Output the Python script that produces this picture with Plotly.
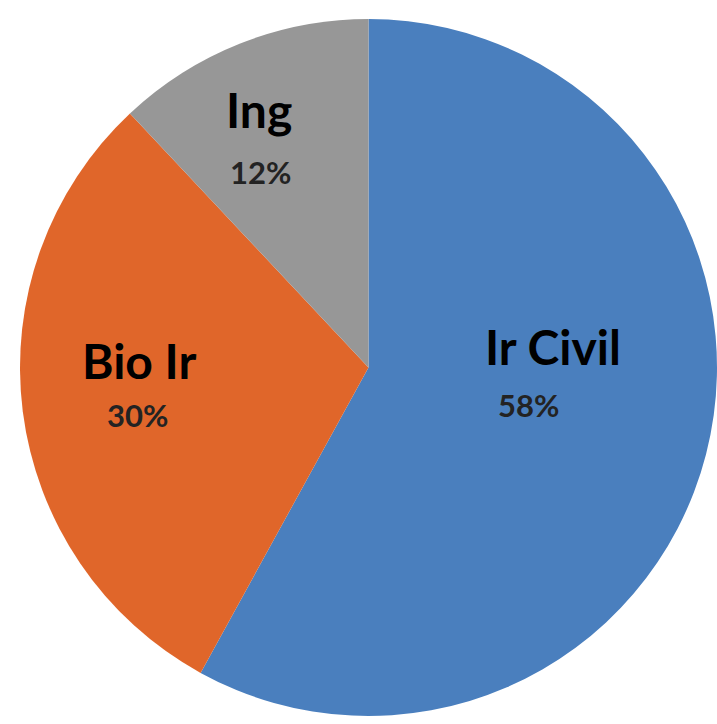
import plotly.graph_objects as go

# Share of each programme
categories = ["Ir Civil", "Bio Ir", "Ing"]
shares = [58, 30, 12]
slice_colors = ["#4A7FBE", "#E0662A", "#979797"]

# Plot area in pixels (figure is 717 x 724)
W, H = 717, 724
M = dict(l=20, r=0, t=19, b=8)
area_w = W - M["l"] - M["r"]
area_h = H - M["t"] - M["b"]


def to_paper(px, py):
    return (px - M["l"]) / area_w, 1 - (py - M["t"]) / area_h


# Where each slice's name and percentage sit (pixel centres)
name_pos = {"Ir Civil": (553, 346), "Bio Ir": (139, 360), "Ing": (259, 109)}
pct_pos = {"Ir Civil": (528, 405), "Bio Ir": (137, 415), "Ing": (260, 172)}

fig = go.Figure(
    go.Pie(
        labels=categories,
        values=shares,
        sort=False,
        direction="clockwise",
        rotation=0,
        marker=dict(colors=slice_colors, line=dict(width=0)),
        textinfo="none",
        hoverinfo="label+percent",
        showlegend=False,
    )
)

total = sum(shares)
annotations = []
for name, val in zip(categories, shares):
    nx, ny = to_paper(*name_pos[name])
    annotations.append(dict(
        x=nx, y=ny, xref="paper", yref="paper", showarrow=False,
        text=f"<b>{name}</b>", xanchor="center", yanchor="middle",
        font=dict(family="Lato", size=48, color="#000000"),
    ))
    px_, py_ = to_paper(*pct_pos[name])
    annotations.append(dict(
        x=px_, y=py_, xref="paper", yref="paper", showarrow=False,
        text=f"<b>{round(100 * val / total)}%</b>", xanchor="center", yanchor="middle",
        font=dict(family="Lato", size=31, color="#232323"),
    ))

fig.update_layout(
    width=W,
    height=H,
    margin=M,
    paper_bgcolor="#FFFFFF",
    plot_bgcolor="#FFFFFF",
    annotations=annotations,
)

fig.write_html("out.html")
